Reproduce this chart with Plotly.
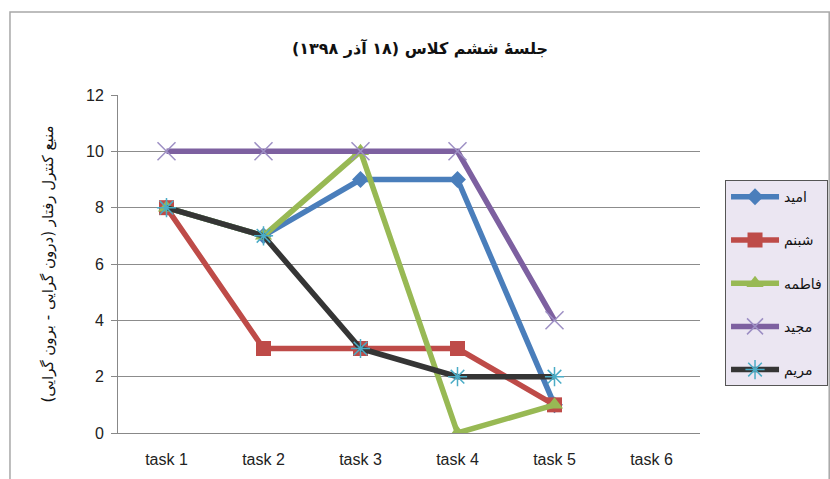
import plotly.graph_objects as go

tasks = ["task 1", "task 2", "task 3", "task 4", "task 5", "task 6"]
names = ["امید", "شبنم", "فاطمه", "مجید", "مریم"]
omid = [8, 7, 9, 9, 1, None]
shabnam = [8, 3, 3, 3, 1, None]
fatemeh = [8, 7, 10, 0, 1, None]
majid = [10, 10, 10, 10, 4, None]
maryam = [8, 7, 3, 2, 2, None]
series = [omid, shabnam, fatemeh, majid, maryam]

line_colors = ["#4a7ebb", "#be4b48", "#98b954", "#7d60a0", "#353535"]
marker_syms = ["diamond", "square", "triangle-up", "x-thin-open", "asterisk-open"]
marker_colors = ["#4a7ebb", "#be4b48", "#98b954", "#9d8fc4", "#4bacc6"]
marker_sizes = [13, 15, 15, 18, 16]

fig = go.Figure()
for i, (nm, vals) in enumerate(zip(names, series)):
    open_sym = marker_syms[i].endswith("open")
    fig.add_trace(go.Scatter(
        x=tasks, y=vals, name=nm, mode="lines+markers",
        legendgroup=str(i),
        line=dict(color=line_colors[i], width=5.5),
        marker=dict(symbol=marker_syms[i], size=marker_sizes[i],
                    color=marker_colors[i],
                    line=dict(color=marker_colors[i], width=1.5 if open_sym else 0)),
    ))

fig.update_layout(
    width=830, height=479,
    margin=dict(l=118, r=130, t=95, b=46, autoexpand=False),
    paper_bgcolor="white", plot_bgcolor="white",
    font=dict(family="DejaVu Sans, Liberation Sans, sans-serif", color="#222"),
    title=dict(text="<b>جلسهٔ ششم کلاس (۱۸ آذر ۱۳۹۸)</b>", x=0.506, xanchor="center",
               y=0.9, yanchor="middle", font=dict(size=16, color="#111")),
    showlegend=True,
    legend=dict(x=1.043, xanchor="left", y=0.748, yanchor="top",
                bgcolor="#ebe6f2", bordercolor="#555", borderwidth=1,
                font=dict(size=14, color="#111"), itemwidth=48,
                tracegroupgap=22),
)
fig.update_xaxes(
    type="category", range=[-0.5, 5.5], showgrid=False, automargin=False,
    showline=True, linecolor="#888", linewidth=1,
    tickfont=dict(family="Liberation Sans, Arial, sans-serif", size=16, color="#222"),
    ticks="", ticklabelstandoff=12, fixedrange=True,
)
fig.update_yaxes(
    range=[0, 12], dtick=2, showgrid=True, gridcolor="#8c8c8c", gridwidth=1,
    showline=True, linecolor="#888", linewidth=1, zeroline=False, automargin=False,
    ticks="outside", ticklen=6, tickcolor="#888", ticklabelstandoff=4,
    tickfont=dict(family="Liberation Sans, Arial, sans-serif", size=16, color="#222"),
    title=dict(text="منبع کنترل رفتار (درون گرایی - برون گرایی)",
               font=dict(size=15, color="#111"), standoff=28),
)
fig.add_shape(type="rect", xref="paper", yref="paper",
              x0=-0.1856, x1=1.222, y0=-0.2, y1=1.2456,
              line=dict(color="#a8a8a8", width=1.5), layer="below")

fig.write_html("out.html", config={"displayModeBar": False},
               post_script="document.body.style.margin='0';document.body.style.padding='0';")
